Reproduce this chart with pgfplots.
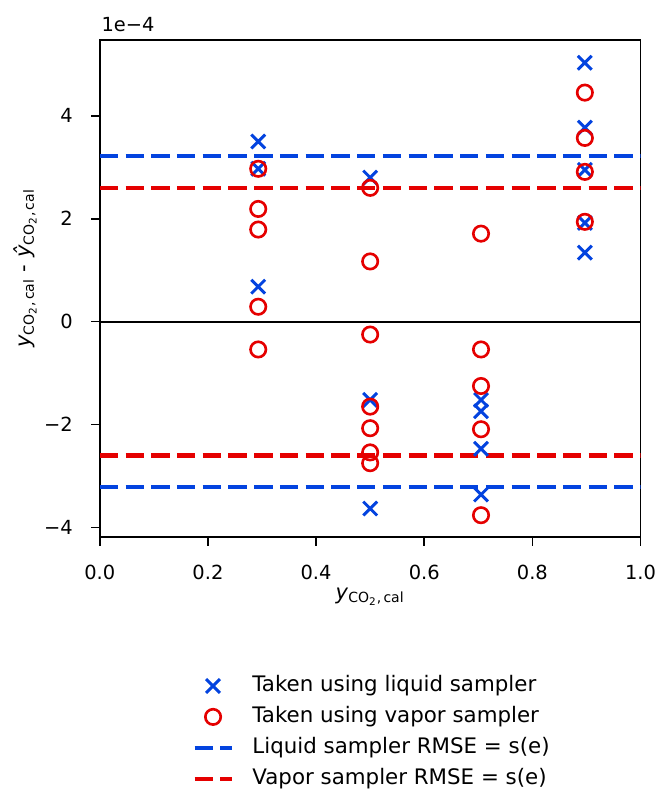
\documentclass[border=0pt]{standalone}
\usepackage{fontspec}
\setmainfont{DejaVu Sans}
\usepackage{pgfplots}
\pgfplotsset{compat=1.18}
\definecolor{liqblue}{HTML}{0343DF}
\definecolor{vapred}{HTML}{E50000}

\pgfplotsset{
  markleg/.style={legend image code/.code={\path[draw=none] (0pt,0pt) -- (21.1pt,0pt);
    \draw[##1] plot[only marks] coordinates {(10.55pt,0pt)};}},
  lineleg/.style={legend image code/.code={\draw[##1] (0pt,0pt) -- (21.1pt,0pt);}},
  rmse/.style={line width=2.3pt, dash pattern=on 10.5pt off 4.2pt},
}
\newcommand{\axfont}{\fontsize{11.1}{13}\selectfont}
\newcommand{\labfont}{\fontsize{12}{14}\selectfont}
\newcommand{\ycal}{\textit{y}\textsubscript{CO\textsubscript{2},\,cal}}
\newcommand{\yhat}{\textit{ŷ}\textsubscript{CO\textsubscript{2},\,cal}}

\begin{document}
\begin{tikzpicture}
\begin{axis}[
  name=ax,
  at={(0,0)}, anchor=south west,
  scale only axis,
  width=308.9pt, height=283.9pt,
  xmin=0, xmax=1,
  ymin=-4.18, ymax=5.475,
  axis line style={line width=0.9pt},
  tick pos=left,
  tick align=outside,
  major tick length=5pt,
  tick style={line width=0.9pt, black},
  tick label style={font=\axfont},
  label style={font=\labfont},
  xtick={0,0.2,0.4,0.6,0.8,1.0},
  xticklabels={0.0,0.2,0.4,0.6,0.8,1.0},
  ytick={-4,-2,0,2,4},
  yticklabels={−4,−2,0,2,4},
  xticklabel style={anchor=north, inner sep=0pt, yshift=-11pt},
  yticklabel style={anchor=east, inner sep=0pt, xshift=-10.3pt},
  xlabel={\ycal},
  ylabel={\ycal{} - \yhat},
  xlabel style={at={(axis description cs:0.5,-0.12)}, anchor=center},
  ylabel style={at={(axis description cs:-0.138,0.54)}, anchor=center},
  legend cell align=left,
  legend style={
    draw=none, fill=none, inner sep=0pt, outer sep=0pt,
    font=\fontsize{12.2}{14}\selectfont,
    at={(axis description cs:0.1716,-0.2795)}, anchor=north west,
    column sep=10.8pt, row sep=5.97pt,
    nodes={inner sep=0pt, text height=8.9pt, text depth=2.8pt},
  },
]
% RMSE lines and zero line
\addplot[forget plot, black, line width=1.2pt] coordinates {(0,0) (1,0)};
\addplot[forget plot, liqblue, rmse] coordinates {(0,3.22) (1,3.22)};
\addplot[forget plot, liqblue, rmse] coordinates {(0,-3.22) (1,-3.22)};
\addplot[forget plot, vapred, rmse] coordinates {(0,2.60) (1,2.60)};
\addplot[forget plot, vapred, rmse] coordinates {(0,-2.60) (1,-2.60)};

% liquid sampler
\addplot[only marks, liqblue, mark=x, mark size=5.6pt, mark options={line width=1.7pt}, markleg]
coordinates {
  (0.293,3.50) (0.293,2.97) (0.293,0.68)
  (0.500,2.80) (0.500,-1.52) (0.500,-3.63)
  (0.705,-1.52) (0.705,-1.74) (0.705,-2.47) (0.705,-3.36)
  (0.897,5.03) (0.897,3.77) (0.897,2.95) (0.897,1.92) (0.897,1.34)
};
\addlegendentry{Taken using liquid sampler}

% vapor sampler
\addplot[only marks, vapred, mark=o, mark size=4.4pt, mark options={line width=1.5pt}, markleg]
coordinates {
  (0.293,2.97) (0.293,2.19) (0.293,1.79) (0.293,0.29) (0.293,-0.54)
  (0.500,2.60) (0.500,1.17) (0.500,-0.25) (0.500,-1.65) (0.500,-2.07) (0.500,-2.54) (0.500,-2.75)
  (0.705,1.71) (0.705,-0.54) (0.705,-1.25) (0.705,-2.09) (0.705,-3.76)
  (0.897,4.45) (0.897,3.57) (0.897,2.91) (0.897,1.94)
};
\addlegendentry{Taken using vapor sampler}

\addlegendimage{liqblue, rmse, lineleg}
\addlegendentry{Liquid sampler RMSE = s(e)}
\addlegendimage{vapred, rmse, lineleg}
\addlegendentry{Vapor sampler RMSE = s(e)}
\end{axis}
\node[anchor=base west, inner sep=0pt, font=\axfont] at ([xshift=0.8pt, yshift=4.6pt]ax.north west) {1e−4};
\useasboundingbox (-57pt,-143.07pt) rectangle (319.2pt,306.66pt);
\end{tikzpicture}
\end{document}
